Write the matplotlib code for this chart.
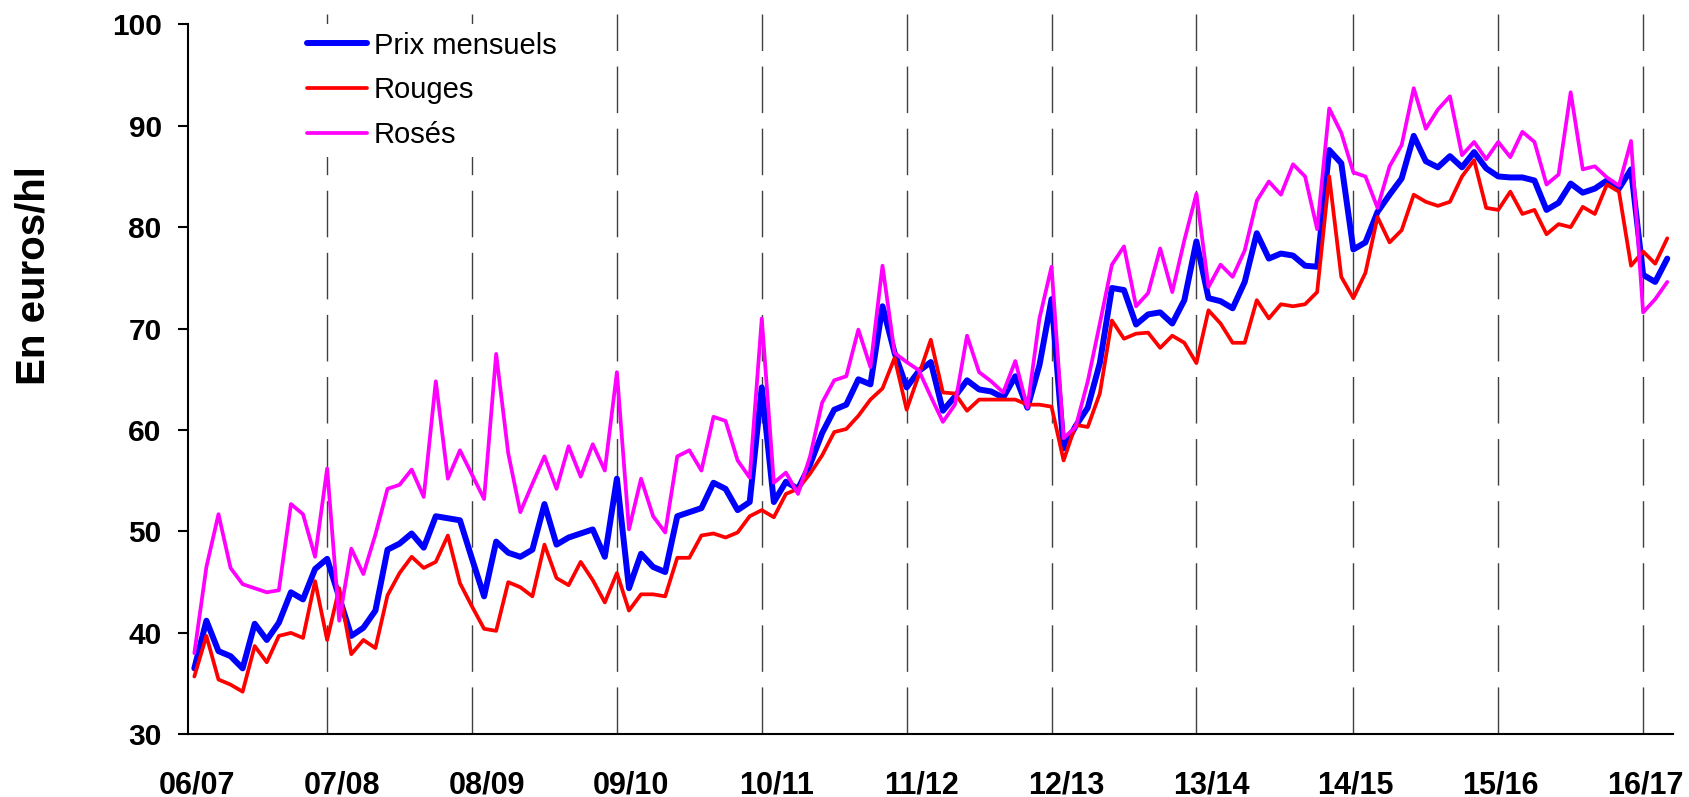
import numpy as np
import matplotlib
matplotlib.use("Agg")
import matplotlib.pyplot as plt
from matplotlib.transforms import blended_transform_factory

plt.rcParams['font.family'] = ['Liberation Sans', 'DejaVu Sans']
plt.rcParams['lines.scale_dashes'] = False

# Campaign labels shown under the axis
campaigns = ["06/07", "07/08", "08/09", "09/10", "10/11", "11/12",
             "12/13", "13/14", "14/15", "15/16", "16/17"]

# Monthly prices (euros/hl)
prix_mensuels = [
    36.5, 41.2, 38.2, 37.7, 36.5, 40.9, 39.3, 41.0, 44.0, 43.3, 46.3, 47.3,
    43.5, 39.7, 40.5, 42.2, 48.2, 48.8, 49.8, 48.4, 51.5, 51.3, 51.1, 47.3,
    43.6, 49.0, 47.9, 47.5, 48.2, 52.7, 48.7, 49.4, 49.8, 50.2, 47.5, 55.2,
    44.4, 47.8, 46.5, 46.0, 51.5, 51.9, 52.3, 54.8, 54.2, 52.1, 52.9, 64.2,
    52.9, 54.9, 54.2, 56.6, 59.7, 62.0, 62.5, 65.0, 64.5, 72.2, 67.6, 64.2,
    65.8, 66.7, 61.9, 63.3, 64.9, 64.0, 63.8, 63.2, 65.3, 62.2, 66.4, 72.9,
    58.2, 60.4, 62.2, 66.6, 74.0, 73.8, 70.4, 71.4, 71.6, 70.5, 72.8, 78.6,
    73.0, 72.7, 72.0, 74.6, 79.4, 76.9, 77.4, 77.2, 76.2, 76.1, 87.6, 86.3,
    77.8, 78.5, 81.5, 83.2, 84.8, 89.0, 86.5, 85.9, 87.0, 85.9, 87.4, 85.8,
    85.0, 84.9, 84.9, 84.6, 81.7, 82.4, 84.3, 83.4, 83.8, 84.6, 83.8, 85.7,
    75.3, 74.6, 76.9,
]

rouges = [
    35.7, 39.7, 35.4, 34.9, 34.2, 38.7, 37.1, 39.7, 40.0, 39.5, 45.1, 39.3,
    44.4, 37.9, 39.3, 38.5, 43.7, 45.9, 47.5, 46.4, 47.0, 49.6, 44.9, 42.6,
    40.4, 40.2, 45.0, 44.5, 43.6, 48.7, 45.4, 44.7, 47.0, 45.2, 43.0, 45.9,
    42.2, 43.8, 43.8, 43.6, 47.4, 47.4, 49.6, 49.8, 49.4, 49.9, 51.5, 52.1,
    51.4, 53.7, 54.2, 55.7, 57.5, 59.8, 60.1, 61.4, 63.0, 64.1, 67.1, 62.0,
    65.4, 68.9, 63.7, 63.6, 61.9, 63.0, 63.0, 63.0, 63.0, 62.5, 62.5, 62.3,
    57.0, 60.5, 60.3, 63.6, 70.8, 69.0, 69.5, 69.6, 68.1, 69.3, 68.6, 66.6,
    71.8, 70.5, 68.6, 68.6, 72.8, 71.0, 72.4, 72.2, 72.4, 73.6, 85.0, 75.1,
    73.0, 75.5, 81.0, 78.5, 79.7, 83.2, 82.5, 82.1, 82.5, 85.0, 86.6, 81.9,
    81.7, 83.5, 81.3, 81.7, 79.3, 80.3, 80.0, 82.0, 81.3, 84.2, 83.5, 76.2,
    77.6, 76.4, 78.9,
]

roses = [
    38.0, 46.5, 51.7, 46.4, 44.8, 44.4, 44.0, 44.2, 52.7, 51.7, 47.5, 56.2,
    41.2, 48.3, 45.8, 49.7, 54.2, 54.6, 56.1, 53.4, 64.8, 55.2, 58.0, 55.6,
    53.2, 67.5, 57.7, 51.9, 54.7, 57.4, 54.2, 58.4, 55.4, 58.6, 56.0, 65.7,
    50.2, 55.2, 51.5, 49.9, 57.4, 58.0, 56.0, 61.3, 60.9, 57.0, 55.3, 71.0,
    54.8, 55.8, 53.7, 57.4, 62.7, 64.9, 65.3, 69.9, 66.2, 76.2, 67.6, 66.7,
    65.9, 63.3, 60.8, 62.5, 69.3, 65.7, 64.8, 63.7, 66.8, 62.2, 71.0, 76.1,
    59.2, 60.3, 64.8, 70.5, 76.3, 78.1, 72.2, 73.5, 77.9, 73.6, 78.7, 83.3,
    74.1, 76.3, 75.1, 77.7, 82.6, 84.5, 83.2, 86.2, 85.0, 79.8, 91.7, 89.3,
    85.4, 85.0, 81.9, 86.0, 88.1, 93.7, 89.7, 91.6, 92.9, 87.1, 88.4, 86.7,
    88.4, 86.9, 89.4, 88.4, 84.2, 85.2, 93.3, 85.7, 86.0, 84.9, 84.1, 88.5,
    71.6, 72.9, 74.6,
]

# Month index at which each campaign boundary (07/08 ... 16/17) is drawn
boundary_months = [11, 23, 35, 47, 59, 71, 83, 96, 108, 120]

W, H, DPI = 1689, 797, 100
fig = plt.figure(figsize=(W / DPI, H / DPI), dpi=DPI)
ax = fig.add_axes([188.3 / W, 1 - 734.3 / H, 1485.0 / W, 710.0 / H])

months = np.arange(len(prix_mensuels))
n = len(months)

ax.set_xlim(-0.5, n - 0.5)
ax.set_ylim(30, 100)

# Dashed campaign separators, running slightly past the plot frame
for m in boundary_months:
    ax.plot([m, m], [101.0, 28.75], color='#404040', lw=1.0,
            ls=(7.2, (33.5, 11.2)), clip_on=False, zorder=1)

line_kw = dict(solid_joinstyle='round', solid_capstyle='round')
ax.plot(months, prix_mensuels, color='#0000FF', lw=4.3,
        label='Prix mensuels', zorder=3, **line_kw)
ax.plot(months, rouges, color='#FF0000', lw=2.7,
        label='Rouges', zorder=4, **line_kw)
ax.plot(months, roses, color='#FF00FF', lw=2.7,
        label='Rosés', zorder=5, **line_kw)

# Axes frame
for side in ('top', 'right'):
    ax.spines[side].set_visible(False)
for side in ('left', 'bottom'):
    ax.spines[side].set_linewidth(1.5)
    ax.spines[side].set_color('black')

ax.set_yticks(np.arange(30, 101, 10))
ax.tick_params(axis='y', direction='out', length=7.2, width=1.5,
               pad=12, labelsize=21.5)
for lbl in ax.get_yticklabels():
    lbl.set_fontweight('bold')
ax.set_xticks([])

# Campaign labels
label_pos = np.arange(len(campaigns)) * 12 + 0.2
trans = blended_transform_factory(ax.transData, fig.transFigure)
for x, txt in zip(label_pos, campaigns):
    ax.text(x, (H - 793.3) / H, txt, transform=trans, ha='center',
            va='baseline', fontsize=22, fontweight='bold', clip_on=False)

fig.text(34 / W, 1 - 276 / H, 'En euros/hl', rotation=90, fontsize=29,
         fontweight='bold', ha='center', va='center')

leg = ax.legend(loc='upper left', bbox_to_anchor=(298.7 / W, 1 - 23.5 / H),
                bbox_transform=fig.transFigure, frameon=True, fancybox=False,
                edgecolor='none', facecolor='white', framealpha=1,
                fontsize=21, handlelength=2.06, handletextpad=0.24,
                labelspacing=0.57, borderpad=0.28, borderaxespad=0)
leg.set_zorder(6)

fig.savefig('out.png', dpi=DPI)
